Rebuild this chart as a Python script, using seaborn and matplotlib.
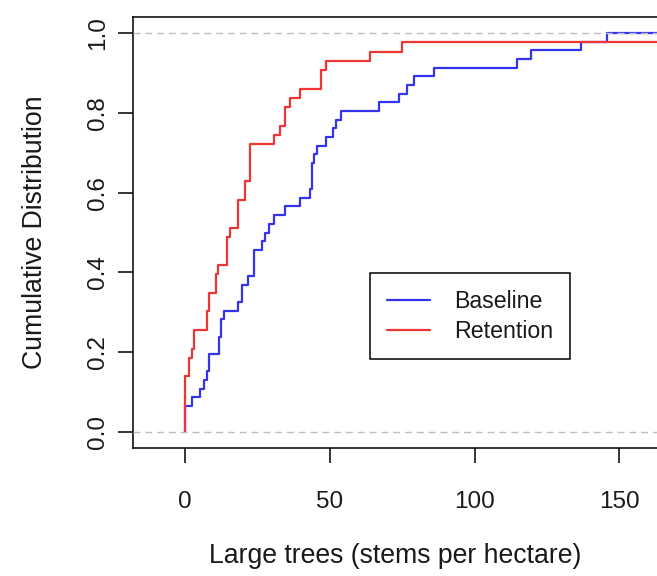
import numpy as np
import pandas as pd
import matplotlib
matplotlib.use("Agg")
import matplotlib.pyplot as plt
import seaborn as sns

# Large-tree density per plot (stems per hectare): distinct values and how many plots share each
baseline_values = [0, 2.4, 5.2, 6.6, 7.7, 8.4, 11.6, 12.5, 13.5, 18.4, 19.7, 21.6, 23.9,
                   26.6, 27.5, 29.1, 30.8, 34.7, 39.8, 43.3, 43.8, 44.6, 45.6, 48.8,
                   51.1, 52.0, 53.9, 66.9, 74.0, 76.7, 79.0, 85.9, 114.5, 119.4,
                   136.7, 145.9]
baseline_counts = [3, 1, 1, 1, 1, 2, 2, 2, 1, 1, 2, 1, 3,
                   1, 1, 1, 1, 1, 1, 1, 3, 1, 1, 1,
                   1, 1, 1, 1, 1, 1, 1, 1, 1, 1,
                   1, 1]

retention_values = [0, 1.5, 2.4, 3.2, 7.5, 8.3, 10.7, 11.5, 14.6, 15.6, 18.3, 20.8,
                    22.5, 30.8, 32.8, 34.6, 36.4, 39.8, 46.9, 48.8, 63.8, 75.0, 180.0]
retention_counts = [6, 2, 1, 2, 2, 2, 2, 1, 3, 1, 3, 2,
                    4, 1, 1, 2, 1, 1, 2, 1, 1, 1, 1]

series_names = ["Baseline", "Retention"]
series_colors = ["#3434ee", "#ee3434"]

x_ticks = [0, 50, 100, 150]
y_ticks = [0.0, 0.2, 0.4, 0.6, 0.8, 1.0]
y_tick_labels = ["0.0", "0.2", "0.4", "0.6", "0.8", "1.0"]

XLIM = (-17.96, 163.0)
YLIM = (-0.04, 1.04)

df = pd.DataFrame({
    "trees": np.r_[np.repeat(baseline_values, baseline_counts),
                   np.repeat(retention_values, retention_counts)],
    "group": ["Baseline"] * sum(baseline_counts) + ["Retention"] * sum(retention_counts),
})

sns.set_style("ticks")
plt.rcParams["font.family"] = ["Liberation Sans", "DejaVu Sans"]
plt.rcParams["text.color"] = "#1a1a1a"
plt.rcParams["xtick.color"] = "black"
plt.rcParams["ytick.color"] = "black"
plt.rcParams["xtick.labelcolor"] = "#1a1a1a"
plt.rcParams["ytick.labelcolor"] = "#1a1a1a"
plt.rcParams["axes.labelcolor"] = "#1a1a1a"
FS_TICK = 17.5
FS_LAB = 19.2
FS_LEG = 16.7

fig = plt.figure(figsize=(6.57, 5.76), dpi=100)
ax = fig.add_axes([133 / 657, 128 / 576, 524 / 657, 431 / 576])

line_handles = []
for name, color in zip(series_names, series_colors):
    sub = df[df["group"] == name]
    sns.ecdfplot(data=sub, x="trees", ax=ax, color=color, linewidth=1.6, label=name)
    line_handles.append(ax.lines[-1])
    # the step function stays at 1 past the largest observation
    top = sub["trees"].max()
    if top < XLIM[1]:
        ax.plot([top, XLIM[1] + 50], [1, 1], color=color, linewidth=1.6)

# reference lines at 0 and 1, drawn over the curves
for h in (0, 1):
    ax.axhline(h, color="#bebebe", linewidth=1.0, dashes=(5, 3.5), zorder=5)

ax.set_xlim(*XLIM)
ax.set_ylim(*YLIM)
ax.set_xticks(x_ticks)
ax.set_xticklabels([str(t) for t in x_ticks], fontsize=FS_TICK)
ax.set_yticks(y_ticks)
ax.set_yticklabels(y_tick_labels, fontsize=FS_TICK, rotation=90, va="center")

ax.tick_params(axis="both", direction="out", length=10.8, width=1.1)
ax.tick_params(axis="x", pad=20.5)
ax.tick_params(axis="y", pad=6.5)

for side in ("left", "top", "bottom"):
    ax.spines[side].set_color("black")
    ax.spines[side].set_linewidth(1.1)
ax.spines["right"].set_visible(False)

ax.set_xlabel("Large trees (stems per hectare)", fontsize=FS_LAB, va="center")
ax.xaxis.set_label_coords(0.5, (448 - 556) / 431)
ax.set_ylabel("Cumulative Distribution", fontsize=FS_LAB, va="center")
ax.yaxis.set_label_coords((35 - 133) / 524, 0.5)

leg = ax.legend(line_handles, series_names, loc="upper left",
                bbox_to_anchor=((370 - 133) / 524, (448 - 273) / 431),
                borderaxespad=0, fontsize=FS_LEG, frameon=True, fancybox=False,
                edgecolor="black", framealpha=1, handlelength=1.85,
                handletextpad=1.05, labelspacing=0.3, borderpad=0.72)
leg.get_frame().set_linewidth(1.1)
leg.set_zorder(10)

fig.savefig("out.png", dpi=100)
